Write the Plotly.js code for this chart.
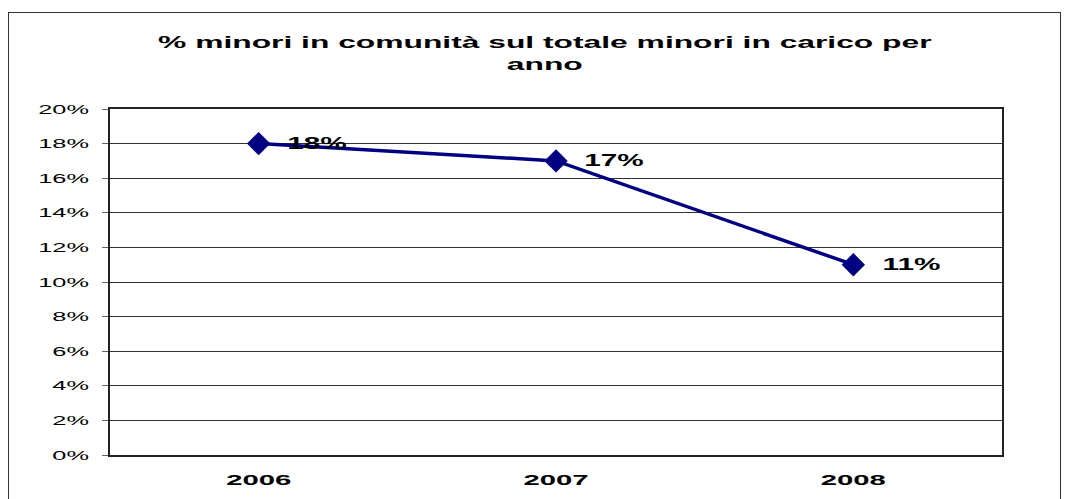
<!DOCTYPE html>
<html>
<head>
<meta charset="utf-8">
<script src="https://cdn.plot.ly/plotly-3.0.1.min.js"></script>
<style>
html,body{margin:0;padding:0;background:#fff;}
#frame{position:absolute;left:8px;top:12px;width:1053px;height:520px;border:1.5px solid #333;box-sizing:border-box;}
#chart{position:absolute;left:0;top:0;width:1071px;height:499px;}
</style>
</head>
<body>
<div id="frame"></div>
<div id="chart"></div>
<script>
const years = ["2006", "2007", "2008"];
const values = [0.18, 0.17, 0.11];
const labels = ["18%", "17%", "11%"];
const yTicks = [0, 0.02, 0.04, 0.06, 0.08, 0.10, 0.12, 0.14, 0.16, 0.18, 0.20];

const FONT = 'Liberation Sans, Arial, sans-serif';

const trace = {
  x: years, y: values, type: 'scatter', mode: 'lines+markers',
  line: {color: '#000080', width: 3.5},
  marker: {symbol: 'diamond', size: 18, color: '#000080'},
  hoverinfo: 'skip'
};

const annotations = years.map((yr, i) => ({
  x: i, y: values[i], xref: 'x', yref: 'y',
  text: '<b>' + labels[i] + '</b>', showarrow: false,
  xanchor: 'center', yanchor: 'middle',
  xshift: 58, yshift: 0,
  font: {family: FONT, size: 17, color: '#000'}
}));

const layout = {
  width: 1071, height: 499,
  margin: {l: 110, r: 69, t: 109, b: 44},
  paper_bgcolor: 'rgba(0,0,0,0)', plot_bgcolor: '#fff',
  showlegend: false,
  title: {
    text: '<b>% minori in comunità sul totale minori in carico per<br>anno</b>',
    x: 545 / 1071, xanchor: 'center', yref: 'container', y: 1 - 48 / 499, yanchor: 'top',
    font: {family: FONT, size: 17, color: '#000'}
  },
  xaxis: {
    type: 'category', range: [-0.5, 2.5],
    showgrid: false, ticks: '', showline: true, linecolor: '#222', linewidth: 2, mirror: true,
    tickfont: {family: FONT, size: 15, color: '#000', weight: 'bold'},
    ticklabelstandoff: 10
  },
  yaxis: {
    range: [0, 0.2], tickvals: yTicks, tickformat: '.0%',
    showgrid: true, gridcolor: '#333', gridwidth: 1, zeroline: false,
    ticks: 'outside', ticklen: 6, tickcolor: '#666', tickwidth: 1,
    showline: true, linecolor: '#222', linewidth: 2, mirror: true,
    tickfont: {family: FONT, size: 13, color: '#000'},
    ticklabelstandoff: 10
  },
  annotations: annotations
};

function stretch(sel, s) {
  document.querySelectorAll(sel).forEach(t => {
    let b;
    try { b = t.getBBox(); } catch (e) { return; }
    const anchor = t.getAttribute('text-anchor') || 'start';
    let x = b.x + b.width / 2;
    if (anchor === 'start') x = b.x;
    if (anchor === 'end') x = b.x + b.width;
    const y = b.y + b.height / 2;
    const prev = t.getAttribute('transform') || '';
    t.setAttribute('transform', prev + ' translate(' + x + ',' + y + ') scale(' + s + ',1) translate(' + (-x) + ',' + (-y) + ')');
  });
}

Plotly.newPlot('chart', [trace], layout, {displayModeBar: false, staticPlot: true}).then(() => {
  stretch('#chart .gtitle', 1.87);
  stretch('#chart g.ytick text', 1.95);
  stretch('#chart g.xtick text', 1.95);
  document.querySelectorAll('#chart .annotation-text-g text').forEach(t => t.setAttribute('text-anchor', t.getAttribute('text-anchor') || 'middle'));
  stretch('#chart .annotation-text-g text', 1.75);
});
</script>
</body>
</html>
